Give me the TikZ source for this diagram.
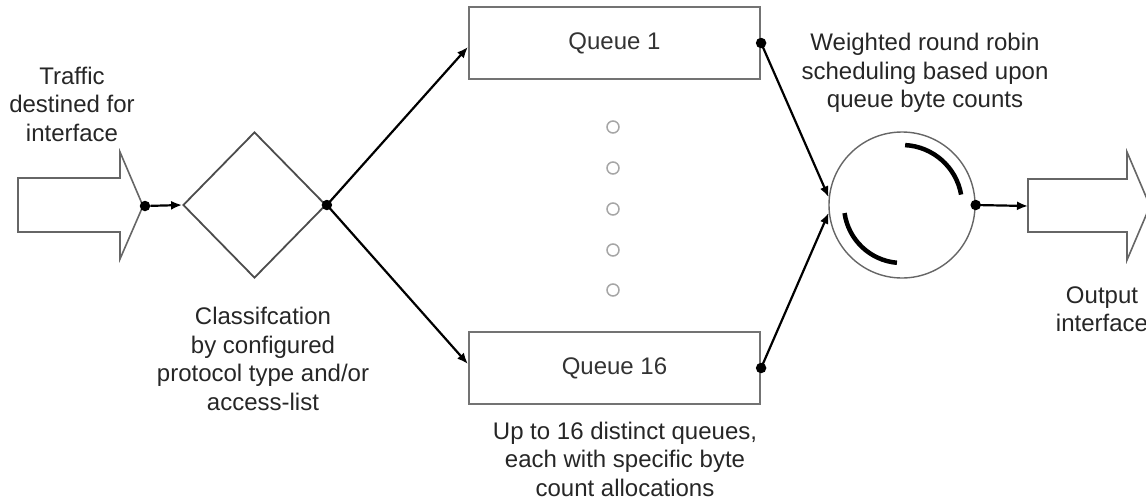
\documentclass[tikz,border=0pt]{standalone}
\usepackage{fontspec}
\setmainfont{Liberation Sans}
\usetikzlibrary{arrows.meta,shapes.geometric}
\begin{document}
\begin{tikzpicture}[x=1pt,y=1pt,
  lbl/.style={align=center,font=\fontsize{24}{28.5}\selectfont,text=black!85,inner sep=0pt},
  qbox/.style={draw=black!55,line width=2.2pt,minimum width=291pt,minimum height=72pt,inner sep=0pt,font=\fontsize{24}{28}\selectfont,text=black!80},
  fatarrow/.style={draw=black!60,line width=1.6pt,line join=miter},
  conn/.style={draw=black,line width=2.2pt,-{Latex[length=11pt,width=9pt]}},
  jdot/.style={circle,fill=black,minimum size=10.5pt,inner sep=0pt},
  pdot/.style={circle,draw=black!35,line width=1.5pt,minimum size=12pt,inner sep=0pt},
  thickarc/.style={draw=black,line width=4.5pt}
]
\useasboundingbox (0,0) rectangle (1146,-499);
\clip (0,0) rectangle (1146,-499);

% input fat arrow
\draw[fatarrow] (18,-178) -- (120,-178) -- (120,-152) -- (143,-206) -- (120,-259) -- (120,-232) -- (18,-232) -- cycle;
\node[jdot] (indot) at (145,-206) {};

% classification diamond
\node[diamond,draw=black!70,line width=1.8pt,minimum width=143pt,minimum height=146pt,inner sep=0pt] (cls) at (254.5,-205) {};
\node[jdot] (clsdot) at (cls.east) {};

% queues
\node[qbox] (q1) at (614.5,-43) {Queue 1};
\node[qbox] (q16) at (614.5,-368) {Queue 16};
\coordinate (q1in) at ([yshift=-4pt]q1.west);
\coordinate (q16in) at ([yshift=4pt]q16.west);
\node[jdot] (q1dot) at (q1.east) {};
\node[jdot] (q16dot) at (q16.east) {};

% ellipsis circles
\foreach \i/\yy in {1/127,2/168,3/209,4/250,5/290}
  \node[pdot] (p\i) at (613,-\yy) {};

% scheduler
\node[circle,draw=black!60,line width=1.4pt,minimum size=146pt,inner sep=0pt] (wrr) at (902,-205) {};
\node[jdot] (wrrdot) at (wrr.east) {};
\draw[thickarc] ([shift={(87:60pt)}]wrr.center) arc[start angle=87,end angle=10,radius=60pt];
\draw[thickarc] ([shift={(188:58pt)}]wrr.center) arc[start angle=188,end angle=265,radius=58pt];

% output fat arrow
\draw[fatarrow] (1028,-179) -- (1127,-179) -- (1127,-152) -- (1150,-206) -- (1127,-260) -- (1127,-232) -- (1028,-232) -- cycle;
\coordinate (outin) at (1028,-206);

% connectors
\draw[conn] (indot) -- (cls.west);
\draw[conn] (clsdot.center) -- (q1in);
\draw[conn] (clsdot.center) -- (q16in);
\draw[conn] (q1dot.center) -- (wrr.174);
\draw[conn] (q16dot.center) -- (wrr.186);
\draw[conn] (wrrdot.center) -- (outin);

% labels
\node[lbl] (tin) at (72,-104) {Traffic\\destined for\\interface};
\node[lbl] (tcls) at (263,-359) {Classifcation\\by configured\\protocol type and/or\\access-list};
\node[lbl] (twrr) at (925,-73) {Weighted round robin\\scheduling based upon\\queue byte counts};
\node[lbl] (tq) at (625,-459) {Up to 16 distinct queues,\\each with specific byte\\count allocations};
\node[lbl] (tout) at (1102,-309) {Output\\interface};
\end{tikzpicture}
\end{document}
